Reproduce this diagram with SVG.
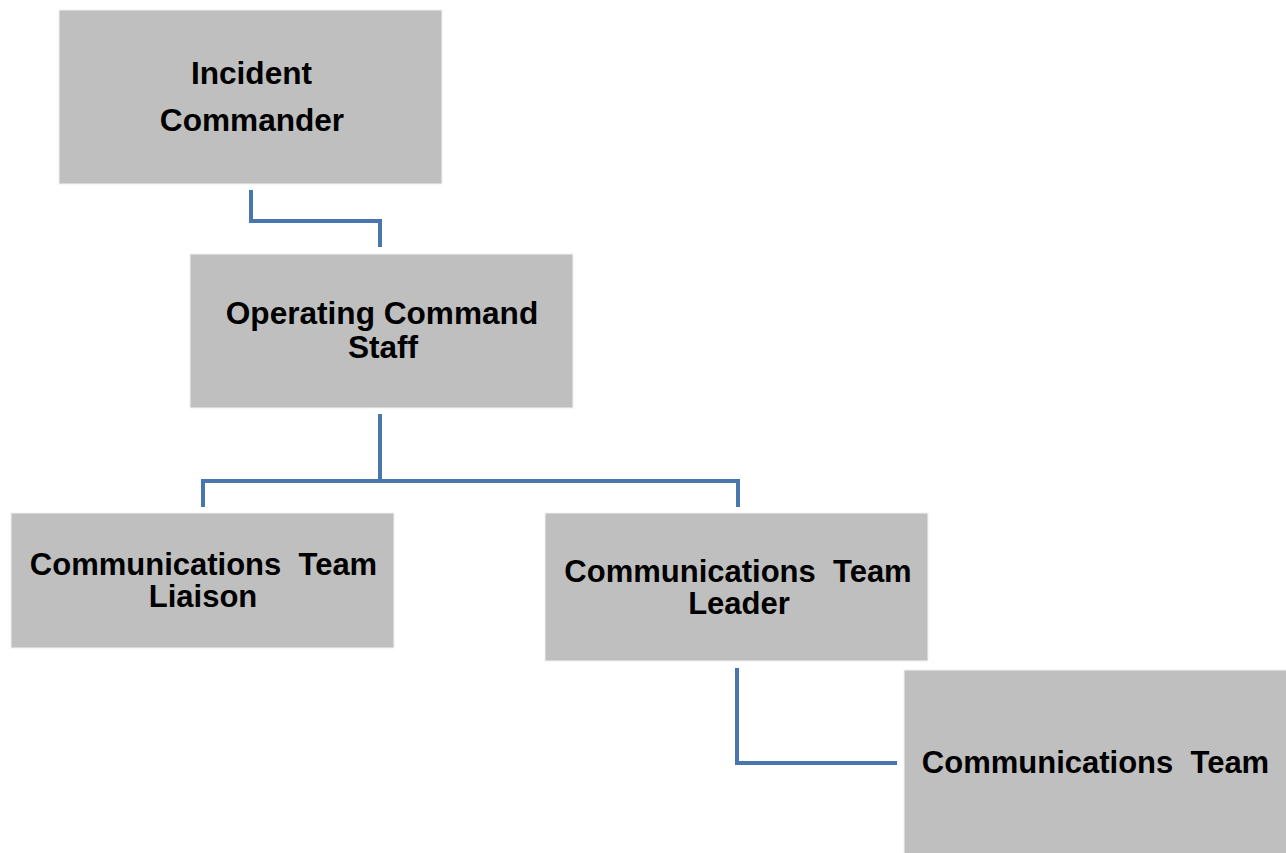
<svg xmlns="http://www.w3.org/2000/svg" width="1286" height="853" viewBox="0 0 1286 853">
<style>
.box{fill:#bfbfbf;stroke:#f2f2f2;stroke-width:1}
.lbl{font-family:"Liberation Sans",Arial,sans-serif;font-weight:bold;font-size:31px;fill:#000;text-anchor:middle}
.big{font-size:31.6px}
.conn{fill:none;stroke:#4a76ae;stroke-width:4;stroke-linejoin:miter}
</style>
<rect width="1286" height="853" fill="#ffffff"/>
<g id="connectors">
<path class="conn" d="M251 190 V221 H380 V247"/>
<path class="conn" d="M380 414 V481"/>
<path class="conn" d="M203 507 V481 H738 V507"/>
<path class="conn" d="M737 668 V763 H897"/>
</g>
<g id="incident-commander">
<rect class="box" x="59" y="10" width="383" height="174"/>
<text class="lbl big" x="251.5" y="84">Incident</text>
<text class="lbl big" x="252" y="131">Commander</text>
</g>
<g id="operating-command-staff">
<rect class="box" x="190" y="254" width="383" height="154"/>
<text class="lbl big" x="382" y="324">Operating Command</text>
<text class="lbl big" x="383" y="358">Staff</text>
</g>
<g id="comm-team-liaison">
<rect class="box" x="11" y="513" width="383" height="135"/>
<text class="lbl" x="203.5" y="575" xml:space="preserve">Communications  Team</text>
<text class="lbl" x="203" y="607">Liaison</text>
</g>
<g id="comm-team-leader">
<rect class="box" x="545" y="513" width="383" height="148"/>
<text class="lbl" x="738" y="582" xml:space="preserve">Communications  Team</text>
<text class="lbl" x="739" y="614">Leader</text>
</g>
<g id="comm-team">
<rect class="box" x="904" y="670" width="383" height="184"/>
<text class="lbl" x="1095.5" y="773" xml:space="preserve">Communications  Team</text>
</g>
</svg>
